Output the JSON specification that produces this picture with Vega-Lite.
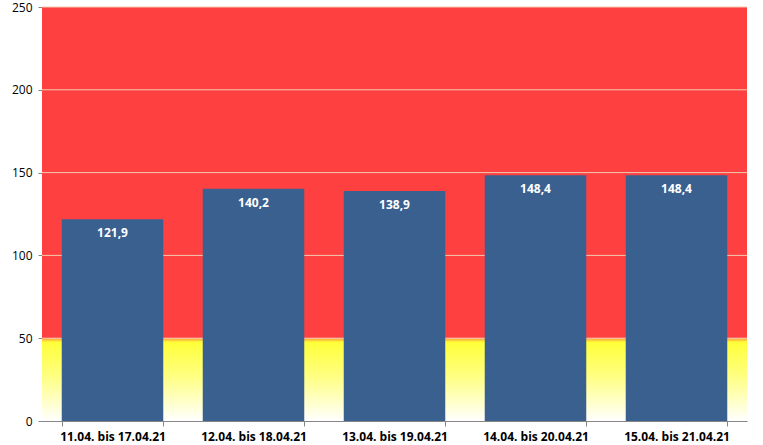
{
  "$schema": "https://vega.github.io/schema/vega-lite/v6.json",
  "width": 705,
  "height": 414,
  "autosize": {"type": "none"},
  "padding": {"left": 42, "top": 7, "right": 16, "bottom": 24},
  "background": "white",
  "config": {
    "view": {"stroke": null},
    "locale": {"number": {"decimal": ",", "thousands": ".", "grouping": [3], "currency": ["", " €"]}},
    "axis": {"labelFont": "Open Sans", "labelColor": "#000000", "domainColor": "#868686", "tickColor": "#868686", "grid": false}
  },
  "encoding": {
    "y": {
      "field": "v",
      "type": "quantitative",
      "scale": {"domain": [0, 250], "nice": false, "zero": true},
      "axis": {"title": null, "values": [0, 50, 100, 150, 200, 250], "tickSize": 4, "labelPadding": 6, "labelFontSize": 12, "domain": true}
    }
  },
  "layer": [
    {
      "data": {"values": [{"v": 50, "v2": 250}]},
      "mark": {"type": "rect", "color": "#FF4040"},
      "encoding": {"y2": {"field": "v2"}}
    },
    {
      "data": {"values": [{"v": 0, "v2": 50}]},
      "mark": {
        "type": "rect",
        "color": {"gradient": "linear", "x1": 0, "y1": 0, "x2": 0, "y2": 1,
          "stops": [{"offset": 0, "color": "#FF9A3A"}, {"offset": 0.05, "color": "#FFFF3A"}, {"offset": 0.45, "color": "#FFFF80"}, {"offset": 1, "color": "#FFFFFF"}]}
      },
      "encoding": {"y2": {"field": "v2"}}
    },
    {
      "data": {"values": [{"v": 50}, {"v": 100}, {"v": 150}, {"v": 200}, {"v": 250}]},
      "mark": {"type": "rule", "color": "#F2C9B0", "strokeWidth": 1},
      "encoding": {}
    },
    {
      "data": {"name": "bars", "values": [
        {"Zeitraum": "11.04. bis 17.04.21", "v": 121.9},
        {"Zeitraum": "12.04. bis 18.04.21", "v": 140.2},
        {"Zeitraum": "13.04. bis 19.04.21", "v": 138.9},
        {"Zeitraum": "14.04. bis 20.04.21", "v": 148.4},
        {"Zeitraum": "15.04. bis 21.04.21", "v": 148.4}
      ]},
      "encoding": {
        "x": {
          "field": "Zeitraum",
          "type": "nominal",
          "sort": null,
          "scale": {"paddingInner": 0.28, "paddingOuter": 0.14},
          "axis": {"title": null, "labelAngle": 0, "labelFontSize": 12, "labelFontWeight": "bold", "tickBand": "extent", "tickSize": 5, "labelPadding": 5}
        }
      },
      "layer": [
        {"mark": {"type": "bar", "color": "#3A6090"}},
        {
          "mark": {"type": "text", "color": "#FFFFFF", "font": "Open Sans", "fontSize": 12, "fontWeight": "bold", "baseline": "middle", "align": "center", "dy": 14},
          "encoding": {"text": {"field": "v", "type": "quantitative", "format": ".1f"}}
        }
      ]
    }
  ]
}
